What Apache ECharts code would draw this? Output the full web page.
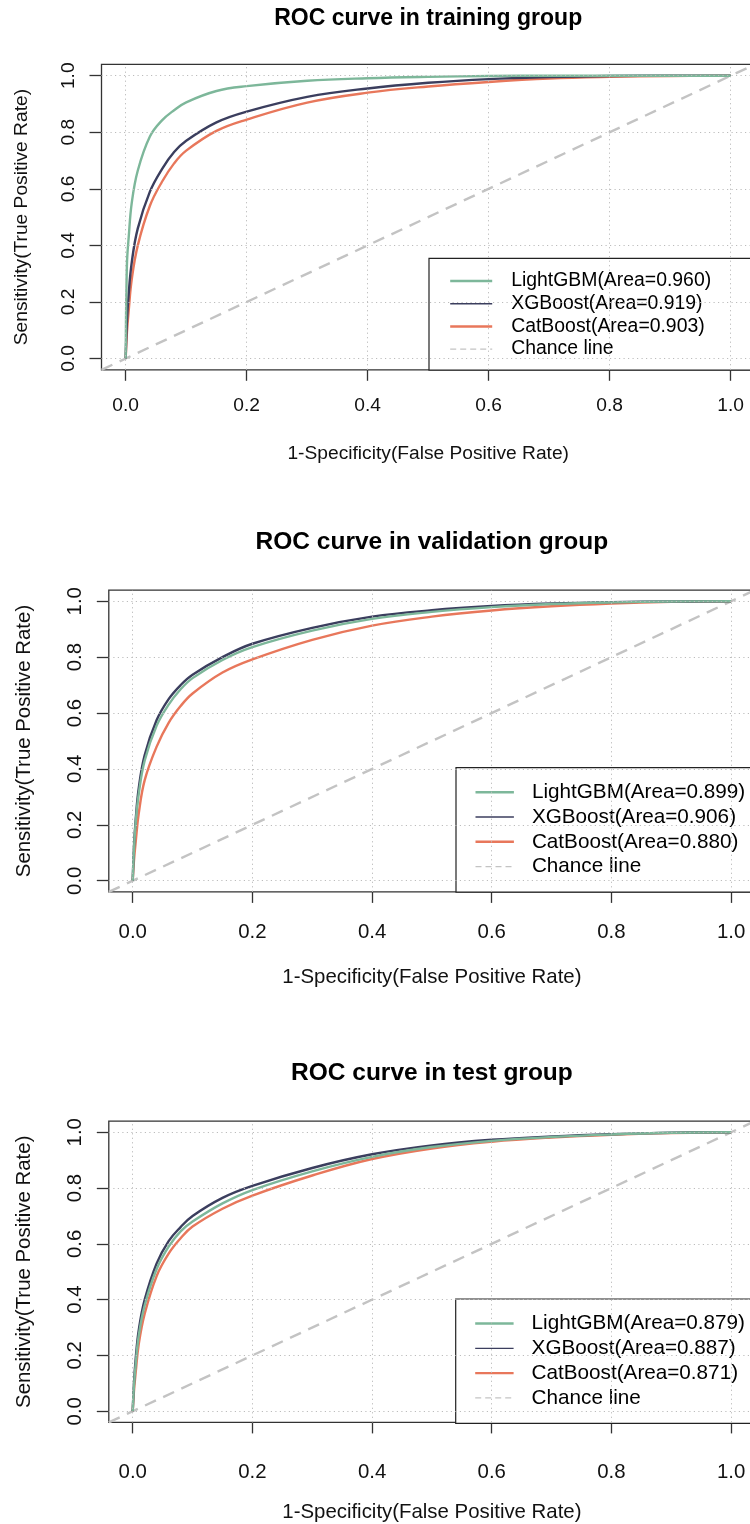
<!DOCTYPE html>
<html>
<head>
<meta charset="UTF-8">
<title>ROC curves</title>
<style>
    body { margin: 0; background: #ffffff; }
    #main { width: 750px; height: 1524px; }
</style>
<script src="https://cdn.jsdelivr.net/npm/echarts@6/dist/echarts.min.js"></script>
</head>
<body>
<div id="main"></div>
<script type="text/javascript">
// tick positions, used on both axes of every panel
var tickVals = [0, 0.2, 0.4, 0.6, 0.8, 1.0];

var fpr = [0, 0.002, 0.005, 0.01, 0.02, 0.04, 0.06, 0.08, 0.1, 0.15, 0.2, 0.3, 0.4, 0.5, 0.6, 0.7, 0.8, 0.9, 1.0];

// training group
var lgbTrain = [0, 0.33, 0.43, 0.55, 0.665, 0.785, 0.842, 0.878, 0.906, 0.946, 0.963, 0.982, 0.991, 0.996, 0.999, 1, 1, 1, 1];
var xgbTrain = [0, 0.13, 0.23, 0.34, 0.46, 0.59, 0.67, 0.73, 0.77, 0.835, 0.873, 0.925, 0.955, 0.975, 0.988, 0.995, 0.999, 1, 1];
var catTrain = [0, 0.09, 0.17, 0.28, 0.40, 0.54, 0.625, 0.69, 0.735, 0.805, 0.845, 0.905, 0.94, 0.962, 0.978, 0.99, 0.996, 0.999, 1];
var namesTrain = ['LightGBM(Area=0.960)', 'XGBoost(Area=0.919)', 'CatBoost(Area=0.903)'];

// validation group
var lgbVal = [0, 0.11, 0.21, 0.31, 0.43, 0.555, 0.63, 0.685, 0.725, 0.79, 0.836, 0.895, 0.937, 0.962, 0.979, 0.99, 0.996, 0.999, 1];
var xgbVal = [0, 0.12, 0.22, 0.33, 0.45, 0.575, 0.65, 0.70, 0.737, 0.80, 0.848, 0.905, 0.945, 0.968, 0.983, 0.992, 0.997, 0.999, 1];
var catVal = [0, 0.07, 0.14, 0.24, 0.36, 0.48, 0.565, 0.625, 0.67, 0.745, 0.792, 0.862, 0.913, 0.945, 0.967, 0.982, 0.992, 0.998, 1];
var namesVal = ['LightGBM(Area=0.899)', 'XGBoost(Area=0.906)', 'CatBoost(Area=0.880)'];

// test group
var lgbTest = [0, 0.09, 0.17, 0.27, 0.38, 0.51, 0.59, 0.645, 0.68, 0.745, 0.793, 0.86, 0.912, 0.947, 0.969, 0.983, 0.992, 0.998, 1];
var xgbTest = [0, 0.10, 0.19, 0.29, 0.40, 0.53, 0.61, 0.66, 0.70, 0.765, 0.808, 0.872, 0.921, 0.953, 0.973, 0.985, 0.993, 0.998, 1];
var catTest = [0, 0.07, 0.14, 0.24, 0.35, 0.485, 0.565, 0.62, 0.662, 0.726, 0.773, 0.845, 0.904, 0.942, 0.966, 0.981, 0.991, 0.997, 1];
var namesTest = ['LightGBM(Area=0.879)', 'XGBoost(Area=0.887)', 'CatBoost(Area=0.871)'];

var titles = ['ROC curve in training group', 'ROC curve in validation group', 'ROC curve in test group'];
var chanceLine = [[-0.04, -0.04], [1.04, 1.04]];

var FONT = '"Liberation Sans", Arial, sans-serif';
var cGreen = '#7db79a', cNavy = '#3b3e5e', cOrange = '#e8775b', cChance = '#c3c3c3';

// layout of each panel (R plot region incl. the 4% padding)
var panels = [
    {left: 101.5, top: 64.4, width: 653.4, height: 305.4, fs: 19.2, tfs: 23, ttop: 6.8,
     xm: 26, xg: 74.5, ym: 23, yg: 70,
     lg: {left: 429, top: 258.3, pad: [13, 45, 11.3, 20], iw: 42, gap: 3.2, fs: 19.4, lh: 19.5, tp: 14}},
    {left: 108.8, top: 590.1, width: 646.2, height: 301.8, fs: 20.4, tfs: 24.5, ttop: 530,
     xm: 30, xg: 75, ym: 23.5, yg: 74,
     lg: {left: 456, top: 767.7, pad: [14, 40, 15, 18.3], iw: 38.4, gap: 3.8, fs: 20.7, lh: 21, tp: 13}},
    {left: 108.8, top: 1121.1, width: 646.2, height: 301.3, fs: 20.4, tfs: 24.5, ttop: 1061,
     xm: 40, xg: 80, ym: 23.5, yg: 74,
     lg: {left: 455.7, top: 1299, pad: [14, 40, 15, 18.3], iw: 38.4, gap: 3.8, fs: 20.7, lh: 21, tp: 13}}
];

var curves = [
    {names: namesTrain, lgb: lgbTrain, xgb: xgbTrain, cat: catTrain},
    {names: namesVal, lgb: lgbVal, xgb: xgbVal, cat: catVal},
    {names: namesTest, lgb: lgbTest, xgb: xgbTest, cat: catTest}
];

function toPairs(ys) {
    return fpr.map(function (x, i) { return [x, ys[i]]; });
}

function curve(name, ys, color, g) {
    return {
        type: 'line', name: name, xAxisIndex: g, yAxisIndex: g,
        data: toPairs(ys),
        symbol: 'none', showSymbol: false,
        smooth: 0.4,
        lineStyle: {color: color, width: 2.4},
        itemStyle: {color: color},
        z: 3
    };
}

function chance(g) {
    var grid = tickVals.map(function (v) { return {xAxis: v}; })
        .concat(tickVals.map(function (v) { return {yAxis: v}; }));
    return {
        type: 'line', name: 'Chance line', xAxisIndex: g, yAxisIndex: g,
        data: chanceLine,
        symbol: 'none', showSymbol: false,
        lineStyle: {color: cChance, width: 2.4, type: [12, 8]},
        itemStyle: {color: cChance},
        z: 2,
        markLine: {
            silent: true, symbol: 'none', label: {show: false},
            lineStyle: {color: '#bcbcbc', width: 1, type: [1.2, 3.3]},
            emphasis: {disabled: true},
            data: grid
        }
    };
}

var option = {
    backgroundColor: '#ffffff',
    animation: false,
    title: [], grid: [], xAxis: [], yAxis: [], legend: [], series: []
};

panels.forEach(function (p, g) {
    var c = curves[g];
    option.title.push({
        text: titles[g], left: p.left + p.width / 2, top: p.ttop, textAlign: 'center', padding: 0,
        textStyle: {fontFamily: FONT, fontSize: p.tfs, fontWeight: 'bold', color: '#000'}
    });
    option.grid.push({
        left: p.left, top: p.top, width: p.width, height: p.height,
        show: true, borderColor: '#333', borderWidth: 1.3, backgroundColor: 'transparent',
        containLabel: false, outerBoundsMode: 'none'
    });
    option.xAxis.push({
        type: 'value', gridIndex: g, min: -0.04, max: 1.04,
        name: '1-Specificity(False Positive Rate)', nameLocation: 'middle', nameGap: p.xg,
        nameTextStyle: {fontFamily: FONT, fontSize: p.fs, color: '#111'},
        axisLine: {show: false, onZero: false},
        axisTick: {show: true, inside: false, length: 11, customValues: tickVals,
                   lineStyle: {color: '#333', width: 1.3}},
        axisLabel: {customValues: tickVals, margin: p.xm, fontFamily: FONT, fontSize: p.fs, color: '#111',
                    formatter: function (v) { return v.toFixed(1); }},
        splitLine: {show: false}
    });
    option.yAxis.push({
        type: 'value', gridIndex: g, min: -0.04, max: 1.04,
        name: 'Sensitivity(True Positive Rate)', nameLocation: 'middle', nameGap: p.yg, nameRotate: 90,
        nameTextStyle: {fontFamily: FONT, fontSize: p.fs, color: '#111'},
        axisLine: {show: false, onZero: false},
        axisTick: {show: true, inside: false, length: 12, customValues: tickVals,
                   lineStyle: {color: '#333', width: 1.3}},
        axisLabel: {customValues: tickVals, margin: p.ym, rotate: 90, fontFamily: FONT, fontSize: p.fs, color: '#111',
                    formatter: function (v) { return v.toFixed(1); }},
        splitLine: {show: false}
    });
    var l = p.lg;
    option.legend.push({
        orient: 'vertical', align: 'left', left: l.left, top: l.top, padding: l.pad,
        itemWidth: l.iw, itemHeight: 14, itemGap: l.gap,
        backgroundColor: '#ffffff', borderColor: '#222', borderWidth: 1.2, borderRadius: 0,
        selectedMode: false,
        itemStyle: {opacity: 0},
        textStyle: {fontFamily: FONT, fontSize: l.fs, lineHeight: l.lh, color: '#000', padding: [0, 0, 0, l.tp]},
        data: [
            {name: c.names[0], lineStyle: {width: 2.4}},
            {name: c.names[1], lineStyle: {width: 1.3}},
            {name: c.names[2], lineStyle: {width: 2.4}},
            {name: 'Chance line', lineStyle: {width: 1.3, type: [6, 4]}}
        ]
    });
    option.series.push(chance(g));
    option.series.push(curve(c.names[2], c.cat, cOrange, g));
    option.series.push(curve(c.names[1], c.xgb, cNavy, g));
    option.series.push(curve(c.names[0], c.lgb, cGreen, g));
});

var myChart = echarts.init(document.getElementById('main'));
myChart.setOption(option);
</script>
</body>
</html>
